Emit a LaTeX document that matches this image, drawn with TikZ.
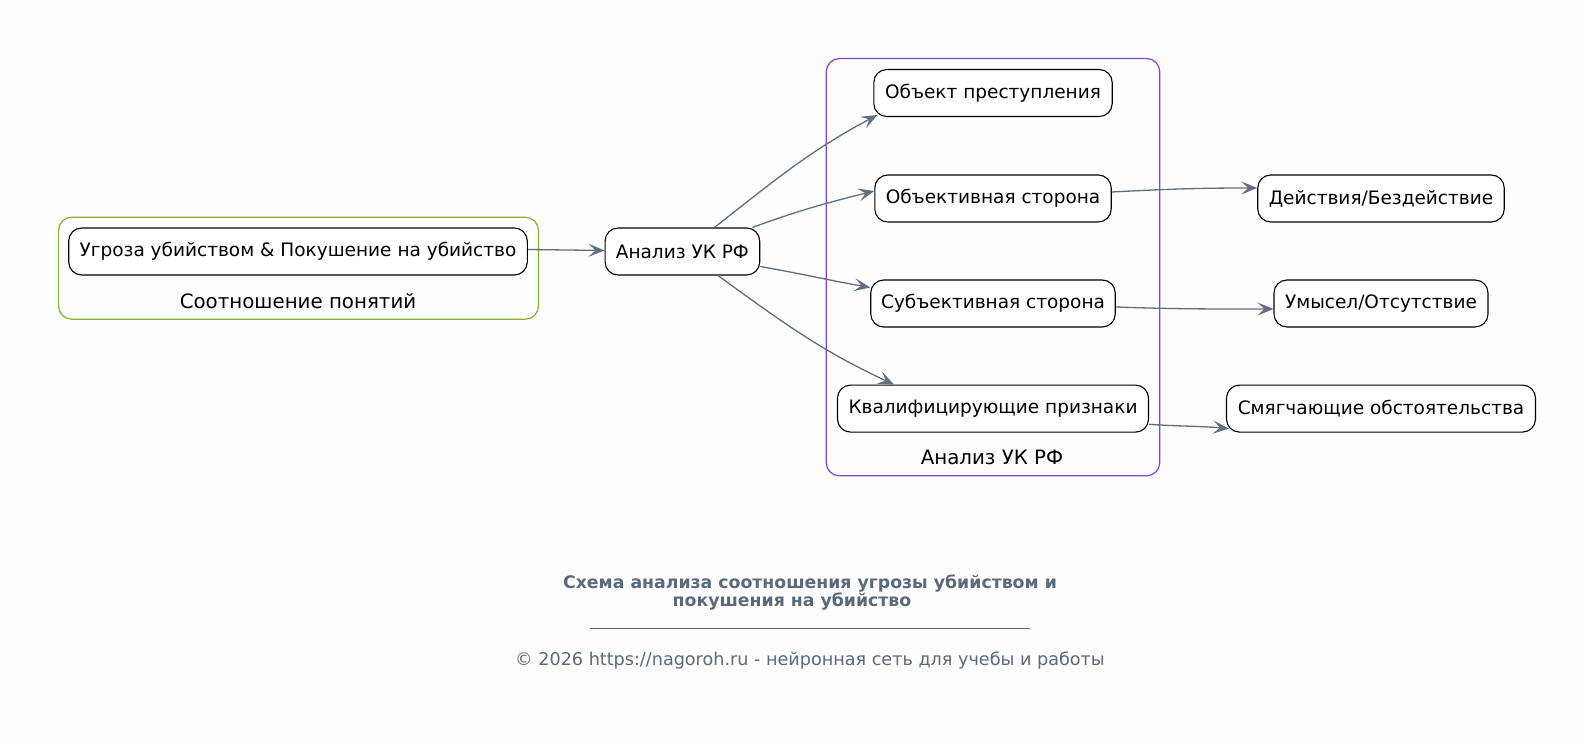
\documentclass[tikz,border=0pt]{standalone}
\usepackage{fontspec}
\setmainfont{DejaVu Sans}
\usetikzlibrary{arrows.meta}
\definecolor{edgec}{RGB}{96,110,126}
\definecolor{titlec}{RGB}{90,106,122}
\definecolor{greenc}{RGB}{132,178,52}
\definecolor{purplec}{RGB}{126,72,206}
\definecolor{bgc}{RGB}{253,253,253}
\begin{document}
\begin{tikzpicture}[x=1pt,y=1pt,
  box/.style={draw=black, line width=1.1pt, rounded corners=13pt, fill=white,
    minimum height=47pt, inner sep=0pt, font=\fontsize{18.5}{22}\selectfont},
  cluster/.style={line width=1.2pt, rounded corners=13pt},
  clabel/.style={font=\fontsize{19.8}{23}\selectfont, inner sep=0pt},
  conn/.style={draw=edgec, line width=1.3pt, -{Stealth[length=16pt,width=13pt,inset=7pt]}},
]
\fill[bgc] (0,0) rectangle (1584,744);
\useasboundingbox (0,0) rectangle (1584,744);

% clusters
\draw[cluster, draw=greenc] (58.6,424.8) rectangle (538.4,526.8);
\draw[cluster, draw=purplec] (826.3,268.2) rectangle (1159.7,685.4);
\node[clabel] (lg) at (298,443) {Соотношение понятий};
\node[clabel] (lp) at (992,286.4) {Анализ УК РФ};

% nodes
\node[box, minimum width=458.6pt] (ug) at (298,492.5) {Угроза убийством \& Покушение на убийство};
\node[box, minimum width=154.6pt] (an) at (682.4,492.5) {Анализ УК РФ};
\node[box, minimum width=238.4pt] (ob) at (993,651) {Объект преступления};
\node[box, minimum width=236.4pt] (os) at (993,545.5) {Объективная сторона};
\node[box, minimum width=244.5pt] (sb) at (993,440.5) {Субъективная сторона};
\node[box, minimum width=311pt] (kv) at (993,335.4) {Квалифицирующие признаки};
\node[box, minimum width=246.5pt] (de) at (1381,545.5) {Действия/Бездействие};
\node[box, minimum width=214pt] (um) at (1381,440.5) {Умысел/Отсутствие};
\node[box, minimum width=309pt] (sm) at (1381,335.4) {Смягчающие обстоятельства};

% connectors
\draw[conn] ([yshift=2pt]ug.east) -- ([yshift=1pt]an.west);
\draw[conn] ([xshift=32pt]an.north) to[out=38,in=208] ([xshift=4pt,yshift=2pt]ob.south west);
\draw[conn] ([xshift=70pt]an.north) to[out=20,in=194] ([yshift=7.5pt]os.west);
\draw[conn] ([yshift=-15pt]an.east) to[out=-10,in=170] ([yshift=16pt]sb.west);
\draw[conn] ([xshift=35.6pt]an.south) to[out=-36,in=155] ([xshift=-99pt]kv.north);
\draw[conn] ([yshift=6.5pt]os.east) to[out=3,in=180] ([yshift=10.5pt]de.west);
\draw[conn] ([yshift=-3.5pt]sb.east) to[out=-2,in=180] ([yshift=-5.5pt]um.west);
\draw[conn] ([yshift=-15.7pt]kv.east) to[out=-4,in=175] ([xshift=3pt,yshift=-20pt]sm.west);

% title and footer
\node[font=\bfseries\fontsize{17.3}{20}\selectfont, text=titlec, inner sep=0pt] (t1) at (810,160) {Схема анализа соотношения угрозы убийством и};
\node[font=\bfseries\fontsize{17.3}{20}\selectfont, text=titlec, inner sep=0pt] (t2) at (792,142) {покушения на убийство};
\draw[titlec, line width=0.7pt] (590,116) -- (1030.4,116);
\node[font=\fontsize{17.6}{20}\selectfont, text=titlec, inner sep=0pt] (cp) at (810,84) {© 2026 https://nagoroh.ru - нейронная сеть для учебы и работы};
\end{tikzpicture}
\end{document}
